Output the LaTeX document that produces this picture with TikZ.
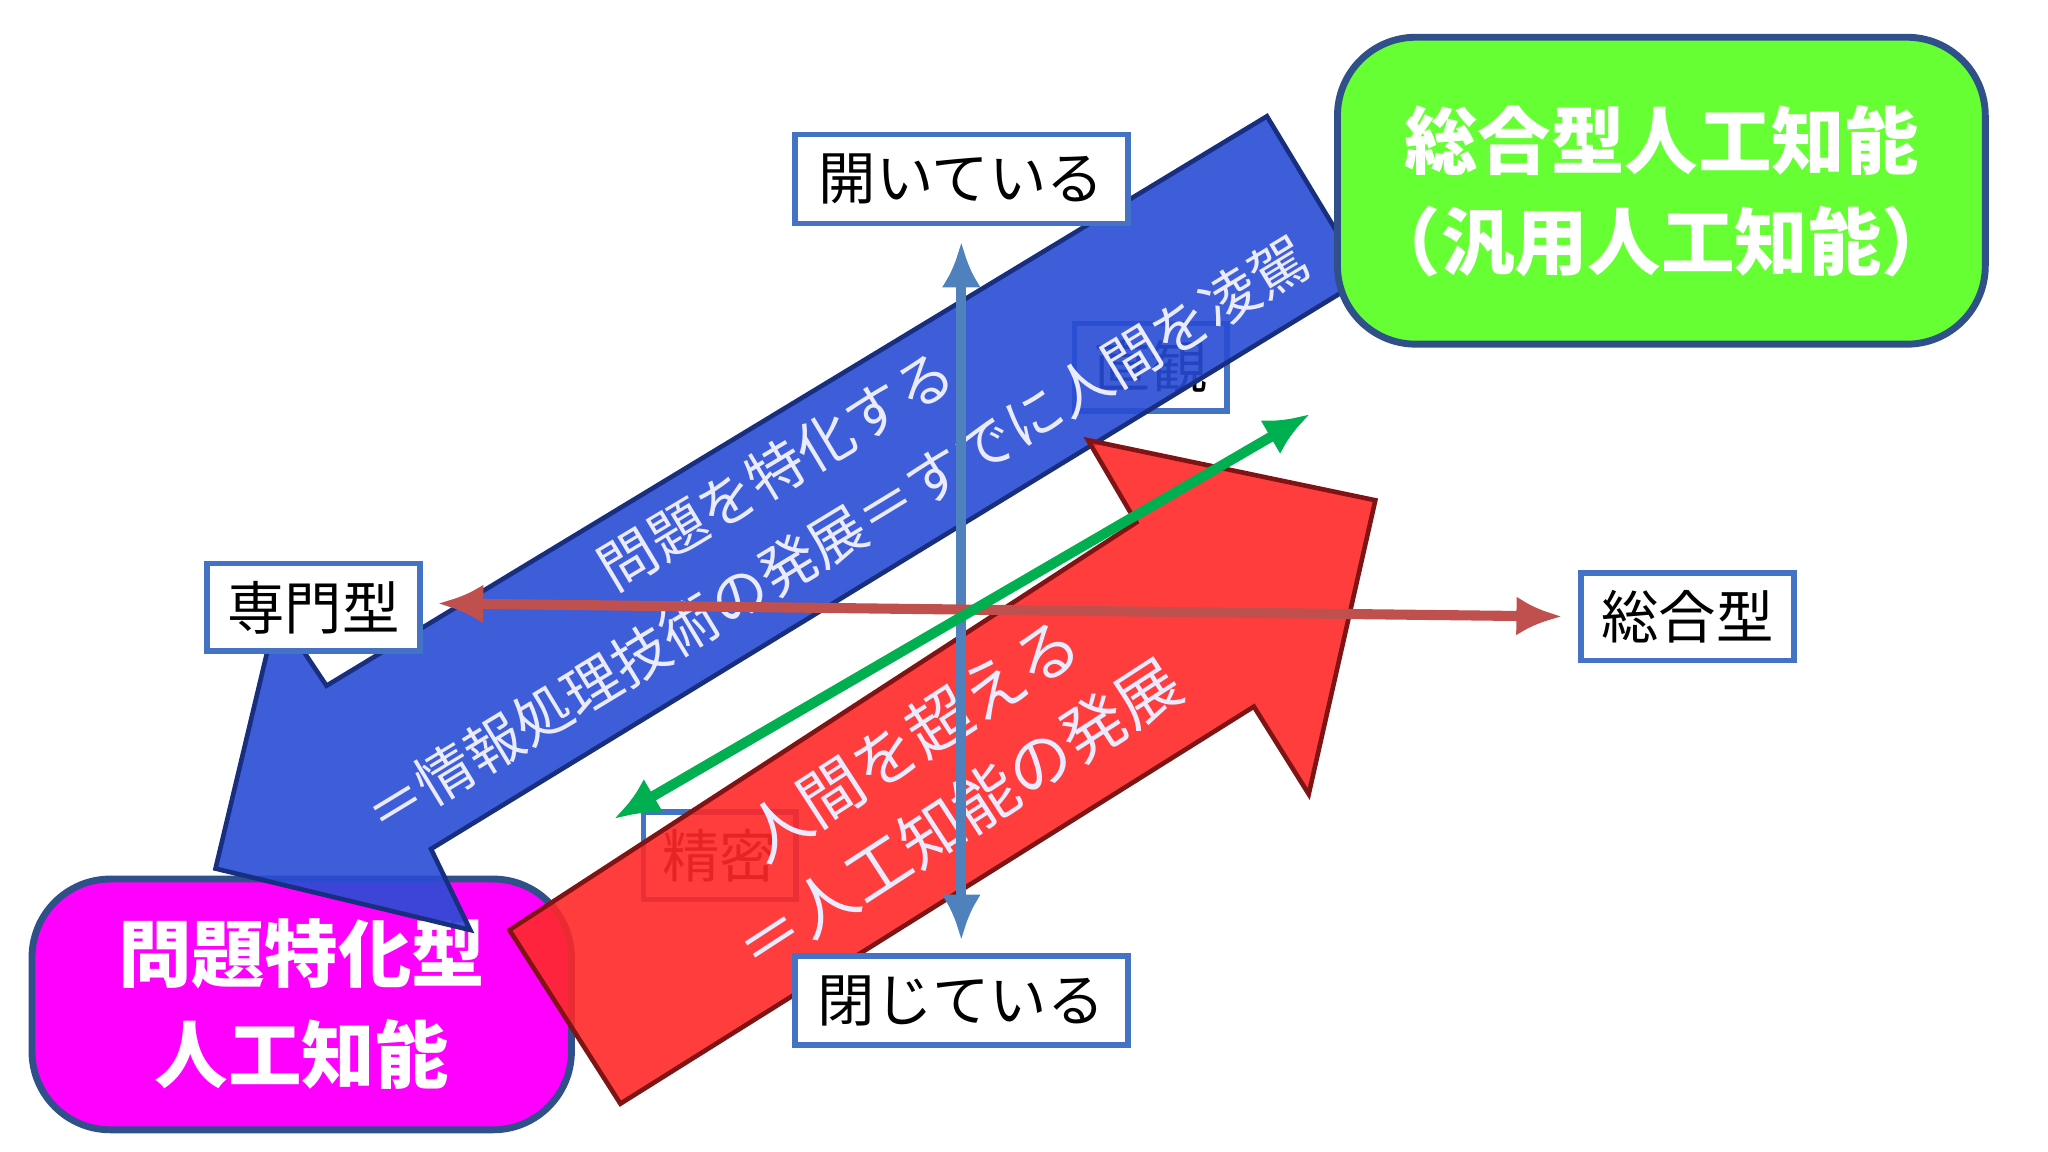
\documentclass[tikz,border=0pt]{standalone}
\usepackage{fontspec}
\setmainfont{Noto Sans CJK JP}
\begin{document}
\begin{tikzpicture}[x=0.1mm,y=-0.1mm,
  lbl/.style={draw=bxblue,line width=1.2pt,fill=white,minimum width=25.5mm,minimum height=6.8mm,font=\fontsize{12.5}{14}\selectfont,inner sep=0pt},
  lblsm/.style={lbl,minimum width=11.7mm,minimum height=6.7mm},
  axis/.style={line width=2.2pt,<->,>={Latex[length=3.5mm,width=3mm]}},
  arrtxt/.style={text=white!92!blue,align=center}]
\usetikzlibrary{arrows.meta}
\definecolor{bxblue}{RGB}{68,114,196}
\definecolor{axblue}{RGB}{79,129,189}
\definecolor{axred}{RGB}{192,80,77}
\definecolor{axgreen}{RGB}{0,176,80}
\definecolor{bigblue}{RGB}{40,76,212}
\definecolor{bigred}{RGB}{255,40,40}
\definecolor{gbox}{RGB}{102,255,51}
\definecolor{mbox}{RGB}{255,0,255}
\useasboundingbox (0,0) rectangle (1568,882);
% hidden boxes
\node[lblsm] (chok) at (881,281) {直観};
\node[lblsm] (seim) at (551,655) {精密};
% magenta box
\node[draw=bxblue!70!black,line width=1.5pt,fill=mbox,rounded corners=6mm,minimum width=41.3mm,minimum height=19.2mm,text=white,align=center,font=\fontsize{16}{22}\selectfont\bfseries] (mag) at (231,769) {問題特化型\\人工知能};
% blue arrow
\draw[fill=bigblue,fill opacity=0.9,draw=bigblue!60!black,line width=1pt] (970,89) -- (250,525) -- (212,468) -- (165,665) -- (360,712) -- (330,650) -- (1045,213) -- cycle;
\node[arrtxt,rotate=31,font=\fontsize{12.5}{14}\selectfont] (bt1) at (594,360) {問題を特化する};
\node[arrtxt,rotate=31.3,font=\fontsize{12.5}{14}\selectfont] (bt2) at (641,410) {＝情報処理技術の発展＝すでに人間を凌駕};
% red arrow
\draw[fill=bigred,fill opacity=0.9,draw=bigred!50!black,line width=1pt] (390,712) -- (870,400) -- (833,337) -- (1053,383) -- (1002,608) -- (960,541) -- (475,845) -- cycle;
\node[arrtxt,rotate=33,font=\fontsize{14}{16}\selectfont] (rt1) at (698,566) {人間を超える};
\node[arrtxt,rotate=33,font=\fontsize{14}{16}\selectfont] (rt2) at (734,624) {＝人工知能の発展};
% green box
\node[draw=bxblue!70!black,line width=1.5pt,fill=gbox,rounded corners=6mm,minimum width=49.6mm,minimum height=23.5mm,text=white,align=center,font=\fontsize{16}{22}\selectfont\bfseries] (grn) at (1272,146) {総合型人工知能\\（汎用人工知能）};
% labels
\node[lbl] (open) at (736,137) {開いている};
\node[lbl] (close) at (736,766) {閉じている};
\node[lblsm,minimum width=16.3mm] (sen) at (240,465) {専門型};
\node[lblsm,minimum width=16.3mm] (sog) at (1292,472) {総合型};
% axes
\coordinate (vt) at (736,185); \coordinate (vb) at (736,720);
\coordinate (hl) at (335,462); \coordinate (hr) at (1196,472);
\coordinate (gl) at (470,627); \coordinate (gr) at (1003,317);
\draw[axis,axblue] (vt) -- (vb);
\draw[axis,axred] (hl) -- (hr);
\draw[axis,axgreen] (gl) -- (gr);
\end{tikzpicture}
\end{document}
